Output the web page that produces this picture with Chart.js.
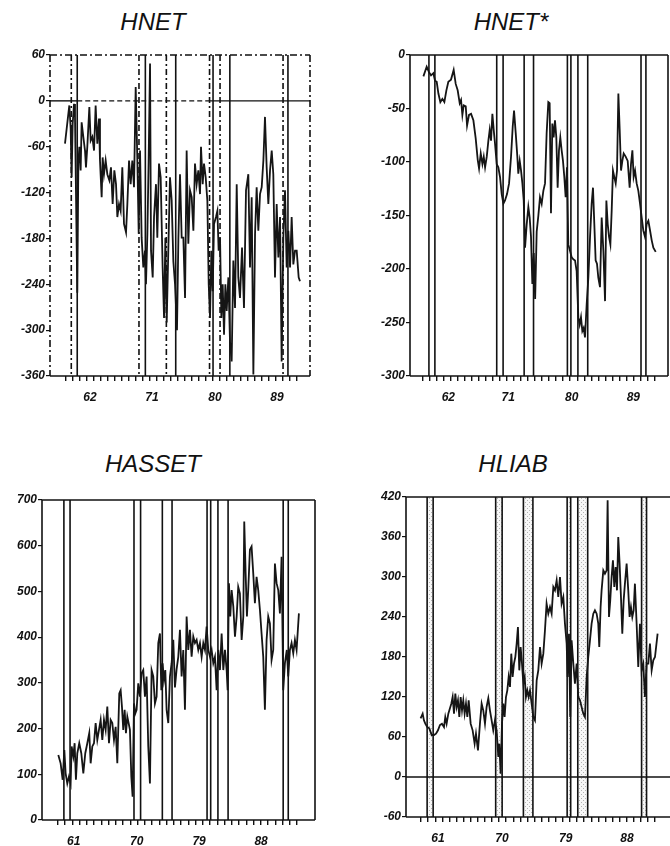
<!DOCTYPE html>
<html>
<head>
<meta charset="utf-8">
<script src="https://cdn.jsdelivr.net/npm/chart.js@4.4.1/dist/chart.umd.min.js"></script>
<style>
html, body { margin: 0; padding: 0; background: #fff; width: 670px; height: 846px; overflow: hidden; position: relative; }
canvas { position: absolute; }
.title { position: absolute; font: italic 24px "Liberation Sans", Arial, sans-serif; color: #111; transform: translateX(-50%); white-space: nowrap; }
</style>
</head>
<body>
<div class="title" style="left:153px; top:8px">HNET</div>
<div class="title" style="left:511px; top:8px">HNET*</div>
<div class="title" style="left:153px; top:450px">HASSET</div>
<div class="title" style="left:513px; top:450px">HLIAB</div>
<canvas id="hnet"></canvas>
<canvas id="hnetStar"></canvas>
<canvas id="hasset"></canvas>
<canvas id="hliab"></canvas>
<script>
// Recession bands (start / end, in years)
const recessionStart = [1960.25, 1969.92, 1973.83, 1980.0, 1981.5, 1990.5];
const recessionEnd = [1961.1, 1970.83, 1975.17, 1980.5, 1982.9, 1991.2];

// HNET
const hnetYears = [1959.35, 1959.83, 1959.97, 1960.16, 1960.3, 1960.45, 1960.64, 1960.78, 1961.11, 1961.26, 1961.4, 1961.59, 1961.73, 1961.97,
  1962.21, 1962.35, 1962.54, 1962.83, 1963.02, 1963.26, 1963.5, 1963.73, 1963.97, 1964.21, 1964.35, 1964.59, 1964.73, 1964.92,
  1965.16, 1965.4, 1965.69, 1965.92, 1966.16, 1966.4, 1966.64, 1966.83, 1967.07, 1967.3, 1967.54, 1967.78, 1968.07, 1968.26,
  1968.5, 1968.73, 1968.97, 1969.21, 1969.45, 1969.69, 1969.88, 1970.07, 1970.3, 1970.54, 1970.78, 1970.92, 1971.12, 1971.3,
  1971.5, 1971.64, 1971.88, 1972.07, 1972.35, 1972.54, 1972.78, 1973.02, 1973.3, 1973.5, 1973.69, 1973.88, 1974.11, 1974.35,
  1974.59, 1974.83, 1975.07, 1975.35, 1975.55, 1975.78, 1976.02, 1976.26, 1976.5, 1976.73, 1976.97, 1977.21, 1977.45, 1977.69,
  1977.92, 1978.16, 1978.4, 1978.64, 1978.78, 1979.02, 1979.21, 1979.45, 1979.69, 1979.88, 1980.07, 1980.26, 1980.45, 1980.64,
  1980.92, 1981.12, 1981.3, 1981.5, 1981.69, 1981.88, 1982.07, 1982.26, 1982.45, 1982.69, 1982.92, 1983.16, 1983.4, 1983.64,
  1983.88, 1984.11, 1984.35, 1984.64, 1984.92, 1985.21, 1985.54, 1985.78, 1986.02, 1986.26, 1986.5, 1986.73, 1986.97, 1987.21,
  1987.45, 1987.69, 1987.92, 1988.16, 1988.4, 1988.64, 1988.88, 1989.11, 1989.35, 1989.59, 1989.83, 1990.07, 1990.3, 1990.54,
  1990.78, 1991.02, 1991.26, 1991.5, 1991.73, 1991.97, 1992.21, 1992.45, 1992.73, 1992.92];
const hnetValues = [-56, -17, -6, -36, -100, -30, -4, -21, -251, -82, -60, -91, -28, -47,
  -65, -87, -60, -8, -52, -47, -65, -6, -56, -23, -78, -126, -74, -96,
  -78, -96, -104, -87, -135, -91, -109, -152, -135, -144, -87, -161, -172, -135,
  -78, -109, -78, -113, 18, -78, -174, -65, -179, -218, -196, -240, -174, -78,
  49, -196, -231, -152, -109, -179, -82, -100, -218, -284, -179, -290, -196, -100,
  -130, -210, -240, -300, -179, -96, -179, -179, -258, -65, -187, -117, -126, -170,
  -82, -109, -91, -122, -60, -109, -82, -100, -131, -240, -284, -196, -249, -161,
  -152, -144, -196, -179, -284, -240, -306, -240, -275, -231, -315, -341, -209, -271,
  -109, -231, -258, -192, -271, -117, -96, -218, -126, -358, -174, -113, -170, -122,
  -113, -78, -21, -87, -135, -91, -65, -96, -231, -135, -205, -152, -341, -179,
  -117, -218, -170, -218, -152, -214, -196, -196, -231, -236];

// HNET*
const hnetStarYears = [1959.46, 1959.93, 1960.26, 1960.55, 1960.88, 1961.12, 1961.36, 1961.6, 1961.88, 1962.17, 1962.45, 1962.74, 1963.02, 1963.4,
  1963.78, 1964.07, 1964.35, 1964.64, 1964.83, 1965.02, 1965.21, 1965.5, 1965.69, 1965.97, 1966.26, 1966.59, 1966.92, 1967.21,
  1967.4, 1967.64, 1967.88, 1968.07, 1968.26, 1968.5, 1968.73, 1968.92, 1969.11, 1969.3, 1969.49, 1969.68, 1969.92, 1970.15,
  1970.39, 1970.63, 1970.87, 1971.1, 1971.39, 1971.68, 1971.96, 1972.2, 1972.39, 1972.63, 1972.86, 1973.0, 1973.2, 1973.39,
  1973.58, 1973.77, 1973.96, 1974.2, 1974.43, 1974.62, 1974.81, 1975.0, 1975.2, 1975.4, 1975.62, 1975.86, 1976.09, 1976.33,
  1976.57, 1976.81, 1977.04, 1977.28, 1977.47, 1977.66, 1977.85, 1978.04, 1978.23, 1978.42, 1978.61, 1978.8, 1978.99, 1979.18,
  1979.37, 1979.56, 1979.75, 1979.94, 1980.13, 1980.37, 1980.61, 1980.85, 1981.09, 1981.32, 1981.56, 1981.75, 1981.94, 1982.13,
  1982.32, 1982.51, 1982.75, 1982.99, 1983.23, 1983.46, 1983.65, 1983.84, 1984.03, 1984.22, 1984.41, 1984.65, 1984.89, 1985.13,
  1985.37, 1985.56, 1985.75, 1985.94, 1986.13, 1986.32, 1986.5, 1986.69, 1986.89, 1987.08, 1987.27, 1987.46, 1987.65, 1987.84,
  1988.03, 1988.31, 1988.6, 1988.88, 1989.07, 1989.27, 1989.45, 1989.65, 1989.88, 1990.12, 1990.36, 1990.6, 1990.83, 1991.07,
  1991.31, 1991.55, 1991.79, 1992.02, 1992.26, 1992.6];
const hnetStarValues = [-20, -11, -16, -19, -17, -24, -25, -36, -44, -41, -44, -33, -25, -23,
  -14, -27, -33, -45, -42, -56, -47, -48, -66, -56, -55, -61, -78, -98,
  -106, -92, -102, -95, -105, -95, -80, -70, -80, -55, -70, -83, -102, -105,
  -114, -130, -139, -136, -130, -120, -95, -67, -52, -73, -95, -111, -99, -108,
  -120, -136, -180, -158, -142, -152, -170, -214, -185, -228, -165, -150, -133, -139,
  -127, -120, -73, -44, -45, -148, -64, -77, -61, -77, -124, -89, -77, -89,
  -99, -114, -133, -105, -177, -183, -189, -191, -192, -202, -245, -252, -245, -258,
  -255, -264, -233, -208, -170, -139, -124, -158, -192, -195, -208, -217, -152, -183,
  -230, -136, -158, -170, -177, -145, -108, -114, -120, -108, -36, -70, -108, -99,
  -92, -95, -99, -124, -102, -89, -114, -108, -120, -127, -139, -152, -164, -170,
  -158, -155, -164, -173, -180, -184];

// HASSET
const hassetYears = [1959.48, 1959.8, 1960.08, 1960.31, 1960.49, 1960.72, 1960.95, 1961.18, 1961.32, 1961.55, 1961.73, 1961.91, 1962.1, 1962.37,
  1962.65, 1962.93, 1963.2, 1963.48, 1963.75, 1963.94, 1964.17, 1964.4, 1964.63, 1964.86, 1965.09, 1965.32, 1965.55, 1965.78,
  1966.01, 1966.24, 1966.47, 1966.7, 1966.93, 1967.16, 1967.39, 1967.62, 1967.89, 1968.08, 1968.26, 1968.44, 1968.63, 1968.81,
  1969.0, 1969.18, 1969.36, 1969.55, 1969.73, 1969.92, 1970.1, 1970.28, 1970.51, 1970.74, 1970.97, 1971.2, 1971.43, 1971.66,
  1971.89, 1972.12, 1972.35, 1972.58, 1972.81, 1973.04, 1973.27, 1973.5, 1973.69, 1973.87, 1974.05, 1974.24, 1974.42, 1974.65,
  1974.88, 1975.11, 1975.34, 1975.57, 1975.8, 1976.03, 1976.26, 1976.49, 1976.72, 1976.95, 1977.18, 1977.41, 1977.64, 1977.87,
  1978.1, 1978.33, 1978.56, 1978.79, 1979.02, 1979.25, 1979.48, 1979.71, 1979.94, 1980.17, 1980.4, 1980.63, 1980.86, 1981.09,
  1981.32, 1981.55, 1981.78, 1982.01, 1982.24, 1982.47, 1982.7, 1982.84, 1983.02, 1983.2, 1983.39, 1983.62, 1983.85, 1984.08,
  1984.3, 1984.53, 1984.77, 1985.0, 1985.13, 1985.32, 1985.5, 1985.68, 1985.91, 1986.14, 1986.37, 1986.6, 1986.83, 1987.06,
  1987.29, 1987.52, 1987.75, 1987.98, 1988.21, 1988.44, 1988.67, 1988.9, 1989.13, 1989.36, 1989.59, 1989.82, 1990.05, 1990.28,
  1990.51, 1990.74, 1991.0, 1991.2, 1991.43, 1991.66, 1991.89, 1992.12, 1992.35, 1992.67];
const hassetValues = [142, 124, 88, 153, 102, 80, 95, 80, 161, 139, 168, 88, 146, 168,
  146, 102, 146, 168, 190, 124, 161, 168, 212, 175, 197, 219, 175, 219,
  197, 248, 168, 219, 212, 175, 204, 124, 277, 284, 248, 197, 241, 190,
  226, 212, 197, 95, 51, 255, 233, 241, 299, 270, 321, 328, 270, 314,
  161, 80, 328, 314, 255, 270, 387, 408, 284, 343, 306, 328, 241, 212,
  314, 343, 394, 290, 330, 357, 416, 314, 372, 241, 445, 372, 416, 357,
  401, 387, 394, 372, 387, 357, 387, 372, 423, 372, 357, 372, 343, 357,
  284, 372, 328, 408, 328, 372, 328, 284, 518, 445, 503, 467, 401, 445,
  510, 496, 394, 445, 653, 540, 445, 503, 591, 598, 540, 474, 532, 503,
  460, 408, 357, 241, 394, 445, 430, 350, 372, 561, 518, 503, 452, 576,
  284, 343, 372, 314, 372, 387, 365, 394, 372, 452];

// HLIAB
const hliabYears = [1959.33, 1959.62, 1959.8, 1959.99, 1960.27, 1960.56, 1960.89, 1961.22, 1961.5, 1961.78, 1962.06, 1962.34, 1962.63, 1962.81,
  1963.0, 1963.24, 1963.47, 1963.66, 1963.85, 1964.04, 1964.23, 1964.41, 1964.6, 1964.79, 1964.98, 1965.17, 1965.35, 1965.54,
  1965.73, 1965.92, 1966.11, 1966.39, 1966.67, 1966.95, 1967.14, 1967.42, 1967.7, 1967.94, 1968.17, 1968.41, 1968.64, 1968.88,
  1969.11, 1969.35, 1969.58, 1969.82, 1970.05, 1970.29, 1970.43, 1970.62, 1970.81, 1971.0, 1971.18, 1971.37, 1971.56, 1971.75,
  1971.94, 1972.12, 1972.31, 1972.5, 1972.69, 1972.88, 1973.06, 1973.25, 1973.44, 1973.63, 1973.82, 1974.01, 1974.19, 1974.38,
  1974.57, 1974.76, 1974.99, 1975.23, 1975.46, 1975.7, 1975.93, 1976.17, 1976.4, 1976.64, 1976.87, 1977.1, 1977.34, 1977.58,
  1977.81, 1978.05, 1978.28, 1978.52, 1978.75, 1978.99, 1979.22, 1979.46, 1979.69, 1979.93, 1980.07, 1980.26, 1980.44, 1980.63,
  1980.87, 1981.1, 1981.34, 1981.57, 1981.81, 1982.04, 1982.28, 1982.51, 1982.75, 1982.98, 1983.22, 1983.45, 1983.69, 1983.92,
  1984.16, 1984.39, 1984.53, 1984.72, 1984.86, 1985.1, 1985.33, 1985.57, 1985.71, 1985.9, 1986.08, 1986.27, 1986.46, 1986.65,
  1986.84, 1987.03, 1987.21, 1987.4, 1987.59, 1987.78, 1987.97, 1988.15, 1988.39, 1988.62, 1988.81, 1989.0, 1989.19, 1989.38,
  1989.56, 1989.8, 1990.03, 1990.27, 1990.5, 1990.74, 1990.97, 1991.21, 1991.45, 1991.68, 1991.92, 1992.15, 1992.39, 1992.76];
const hliabValues = [88, 95, 85, 80, 75, 73, 63, 63, 65, 70, 78, 80, 75, 90,
  80, 95, 103, 110, 120, 95, 125, 105, 115, 90, 120, 100, 115, 95,
  110, 90, 115, 80, 70, 50, 65, 40, 80, 110, 100, 80, 105, 118,
  100, 85, 70, 85, 70, 30, 50, 5, 80, 110, 90, 120, 130, 150,
  135, 185, 150, 170, 180, 200, 225, 160, 195, 170, 140, 150, 120, 130,
  120, 130, 110, 90, 85, 145, 160, 195, 170, 185, 220, 260, 245, 255,
  245, 285, 280, 295, 270, 300, 260, 270, 230, 200, 150, 215, 90, 205,
  170, 140, 170, 120, 115, 105, 95, 90, 150, 180, 205, 230, 245, 250,
  245, 230, 195, 255, 280, 310, 305, 310, 415, 240, 265, 300, 325, 285,
  315, 280, 360, 320, 270, 215, 265, 290, 320, 280, 240, 255, 240, 250,
  290, 230, 165, 230, 160, 170, 120, 170, 170, 200, 160, 175, 180, 215];

// Axis labels: position (in years) and text
const hnetLabelPos = [1962.92, 1971.78, 1980.78, 1989.63];
const hnetLabels = ['62', '71', '80', '89'];
const hnetStarLabelPos = [1963.02, 1971.57, 1980.62, 1989.41];
const hnetStarLabels = ['62', '71', '80', '89'];
const hassetLabelPos = [1961.6, 1970.3, 1978.9, 1987.45];
const hassetLabels = ['61', '70', '79', '88'];
const hliabLabelPos = [1961.78, 1970.81, 1979.79, 1988.44];
const hliabLabels = ['61', '70', '79', '88'];

// one small tick per year
const yearTicks = [];
for (let t = 1959.4; t < 1993; t += 1) yearTicks.push(Math.round(t * 100) / 100);

const FONT = "'Liberation Sans', Arial, sans-serif";
const Y_W = 45, PAD_TOP = 15, PAD_RIGHT = 10, X_H = 30;

function stipple(ctx) {
    const c = document.createElement('canvas');
    c.width = 4; c.height = 4;
    const g = c.getContext('2d');
    g.fillStyle = 'rgba(0,0,0,0.03)';
    g.fillRect(0, 0, 4, 4);
    g.fillStyle = 'rgba(0,0,0,0.28)';
    g.fillRect(0, 0, 1, 1);
    g.fillRect(2, 2, 1, 1);
    return ctx.createPattern(c, 'repeat');
}

function decorPlugin(p) {
    return {
        id: 'decor',
        beforeDatasetsDraw(chart) {
            const { ctx, chartArea: a, scales: { x, y } } = chart;
            ctx.save();
            ctx.beginPath();
            ctx.rect(a.left, a.top, a.right - a.left, a.bottom - a.top);
            ctx.clip();
            ctx.strokeStyle = '#111';
            recessionStart.forEach((s, i) => {
                const x0 = x.getPixelForValue(s);
                const x1 = x.getPixelForValue(recessionEnd[i]);
                if (p.stipple) {
                    ctx.fillStyle = stipple(ctx);
                    ctx.fillRect(x0, a.top, x1 - x0, a.bottom - a.top);
                }
                [[x0, p.startDash || []], [x1, []]].forEach(([px, dash]) => {
                    ctx.lineWidth = 1.6;
                    ctx.setLineDash(dash);
                    ctx.beginPath();
                    ctx.moveTo(px, a.top);
                    ctx.lineTo(px, a.bottom);
                    ctx.stroke();
                });
            });
            if (p.zero) {
                const py = y.getPixelForValue(0);
                p.zero.forEach(seg => {
                    ctx.lineWidth = 1.4;
                    ctx.setLineDash(seg.dash);
                    ctx.beginPath();
                    ctx.moveTo(x.getPixelForValue(seg.from), py);
                    ctx.lineTo(x.getPixelForValue(seg.to), py);
                    ctx.stroke();
                });
            }
            ctx.restore();
        },
        afterDatasetsDraw(chart) {
            const { ctx, chartArea: a } = chart;
            ctx.save();
            ctx.strokeStyle = '#111';
            ctx.lineWidth = 1.6;
            const side = (x0, y0, x1, y1, dash) => {
                ctx.setLineDash(dash);
                ctx.beginPath();
                ctx.moveTo(x0, y0);
                ctx.lineTo(x1, y1);
                ctx.stroke();
            };
            const d = p.frameDash || [];
            side(a.left, a.top, a.right, a.top, d);
            side(a.left, a.top, a.left, a.bottom, d);
            side(a.right, a.top, a.right, a.bottom, d);
            side(a.left, a.bottom, a.right, a.bottom, []);
            ctx.restore();
        }
    };
}

function drawPanel(id, p) {
    const canvas = document.getElementById(id);
    canvas.width = p.right - p.left + Y_W + PAD_RIGHT;
    canvas.height = p.bottom - p.top + PAD_TOP + X_H;
    canvas.style.left = (p.left - Y_W) + 'px';
    canvas.style.top = (p.top - PAD_TOP) + 'px';

    const tickFont = { family: FONT, size: 12, style: 'italic', weight: 'bold' };

    new Chart(canvas.getContext('2d'), {
        type: 'line',
        data: {
            datasets: [{
                data: p.years.map((yr, i) => ({ x: yr, y: p.values[i] })),
                borderColor: '#151515',
                borderWidth: 1.8,
                pointRadius: 0,
                tension: 0,
                fill: false
            }]
        },
        options: {
            responsive: false,
            animation: false,
            devicePixelRatio: 1,
            layout: { padding: { left: 0, top: PAD_TOP, right: PAD_RIGHT, bottom: 0 } },
            plugins: { legend: { display: false }, tooltip: { enabled: false } },
            scales: {
                x: {
                    type: 'linear',
                    min: p.xMin,
                    max: p.xMax,
                    afterBuildTicks: axis => {
                        axis.ticks = yearTicks.concat(p.labelPos).sort((a, b) => a - b).map(v => ({ value: v }));
                    },
                    afterFit: axis => { axis.height = X_H; },
                    border: { display: false },
                    grid: {
                        drawOnChartArea: false,
                        drawTicks: true,
                        tickLength: 5,
                        lineWidth: 1.4,
                        color: c => (c.tick && p.labelPos.includes(c.tick.value)) ? 'rgba(0,0,0,0)' : '#111'
                    },
                    ticks: {
                        autoSkip: false,
                        maxRotation: 0,
                        minRotation: 0,
                        padding: 9,
                        color: '#111',
                        font: tickFont,
                        callback: v => {
                            const i = p.labelPos.indexOf(v);
                            return i < 0 ? '' : p.labels[i];
                        }
                    }
                },
                y: {
                    min: p.yMin,
                    max: p.yMax,
                    afterFit: axis => { axis.width = Y_W; },
                    border: { display: false },
                    grid: { drawOnChartArea: false, drawTicks: true, tickLength: 4, lineWidth: 1.2, color: '#111' },
                    ticks: {
                        stepSize: p.yStep,
                        padding: 1,
                        color: '#111',
                        font: tickFont,
                        callback: v => String(v)
                    }
                }
            }
        },
        plugins: [decorPlugin(p)]
    });
}

drawPanel('hnet', {
    left: 50, right: 310, top: 55, bottom: 376,
    xMin: 1957.21, xMax: 1994.35, yMin: -360, yMax: 60, yStep: 60,
    years: hnetYears, values: hnetValues,
    labelPos: hnetLabelPos, labels: hnetLabels,
    startDash: [6, 3, 2, 3], frameDash: [7, 3, 2, 3],
    zero: [
        { from: 1957.21, to: 1961.1, dash: [] },
        { from: 1961.1, to: 1980.0, dash: [5, 3] },
        { from: 1980.0, to: 1994.35, dash: [] }
    ]
});

drawPanel('hnetStar', {
    left: 410, right: 668, top: 55, bottom: 376,
    xMin: 1957.55, xMax: 1994.35, yMin: -300, yMax: 0, yStep: 50,
    years: hnetStarYears, values: hnetStarValues,
    labelPos: hnetStarLabelPos, labels: hnetStarLabels
});

drawPanel('hasset', {
    left: 42, right: 315, top: 500, bottom: 820,
    xMin: 1957.23, xMax: 1994.89, yMin: 0, yMax: 700, yStep: 100,
    years: hassetYears, values: hassetValues,
    labelPos: hassetLabelPos, labels: hassetLabels
});

drawPanel('hliab', {
    left: 406, right: 672, top: 497, bottom: 817,
    xMin: 1957.27, xMax: 1994.79, yMin: -60, yMax: 420, yStep: 60,
    years: hliabYears, values: hliabValues,
    labelPos: hliabLabelPos, labels: hliabLabels,
    stipple: true,
    zero: [{ from: 1957.27, to: 1994.79, dash: [] }]
});
</script>
</body>
</html>
